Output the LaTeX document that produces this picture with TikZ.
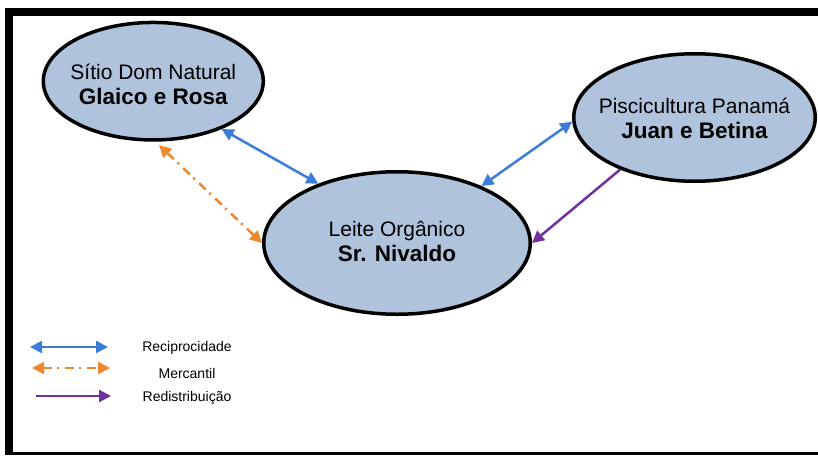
\documentclass[tikz,border=0pt]{standalone}
\usepackage{fontspec}
\setmainfont{Liberation Sans}
\usetikzlibrary{arrows.meta,shapes.geometric}
\definecolor{fillblue}{HTML}{AFC3DC}
\definecolor{recip}{HTML}{3C7DD9}
\definecolor{merc}{HTML}{F0872D}
\definecolor{redist}{HTML}{7030A0}
\newcommand\bignamefont{\fontsize{22.5}{25}\selectfont\bfseries}
% two-line label of zero size: the ellipse size comes from minimum width/height,
% the first baseline sits #3 above the node centre
\newcommand\actortext[3]{\raisebox{#3}[0pt][0pt]{\makebox[0pt]{\begin{tabular}[t]{@{}c@{}}#1\\\bignamefont #2\end{tabular}}}}
\begin{document}
\begin{tikzpicture}[x=1pt,y=-1pt,
  actor/.style={ellipse, draw=black, line width=3.5pt, fill=fillblue, inner sep=0pt,
    font=\fontsize{21}{25}\selectfont},
  link/.style={line width=2.5pt},
  tipT/.tip={Triangle[length=12pt,width=12pt]},
  reciprocal/.style={link, draw=recip, tipT-tipT},
  mercantile/.style={link, draw=merc, tipT-tipT, dash pattern=on 9pt off 5pt on 2pt off 6pt},
  redistrib/.style={link, draw=redist, -tipT},
  legendtext/.style={font=\fontsize{14}{16}\selectfont, inner sep=0pt}
]
\useasboundingbox (0,0) rectangle (818,455);
\fill[white] (0,0) rectangle (818,455);
% frame
\draw[line width=8pt] (5,12) -- (818,12);
\draw[line width=8pt] (9,8) -- (9,455);
\draw[line width=3pt] (5,453.5) -- (818,453.5);

% actors
\node[actor, minimum width=220pt, minimum height=117.5pt] (sitio) at (153.3,81.2)
  {\actortext{Sítio Dom Natural}{Glaico e Rosa}{2.2pt}};
\node[actor, minimum width=241.5pt, minimum height=127.5pt] (pisc) at (694.5,117.5)
  {\actortext{Piscicultura Panamá}{Juan e Betina}{4.2pt}};
\node[actor, minimum width=266.5pt, minimum height=142.5pt] (leite) at (397,243)
  {\actortext{Leite Orgânico}{Sr. Nivaldo}{6.3pt}};

% connectors
\draw[reciprocal] (sitio.-35) -- (leite.143.7);
\draw[mercantile, shorten <=5pt] (sitio.-88.5) -- (leite.180);
\draw[reciprocal] (leite.34.4) -- (pisc.182);
\draw[redistrib] (pisc.215) -- (leite.0);

% legend
\coordinate (r1) at (30,347);  \coordinate (r2) at (108,347);
\coordinate (m1) at (32,368);  \coordinate (m2) at (110,368);
\coordinate (d1) at (36,396);  \coordinate (d2) at (111,396);
\draw[reciprocal] (r1) -- (r2);
\draw[mercantile] (m1) -- (m2);
\draw[redistrib] (d1) -- (d2);
\node[legendtext] (lr) at (187,348) {Reciprocidade};
\node[legendtext] (lm) at (187,373) {Mercantil};
\node[legendtext] (ld) at (187,398) {Redistribuição};
\end{tikzpicture}
\end{document}
